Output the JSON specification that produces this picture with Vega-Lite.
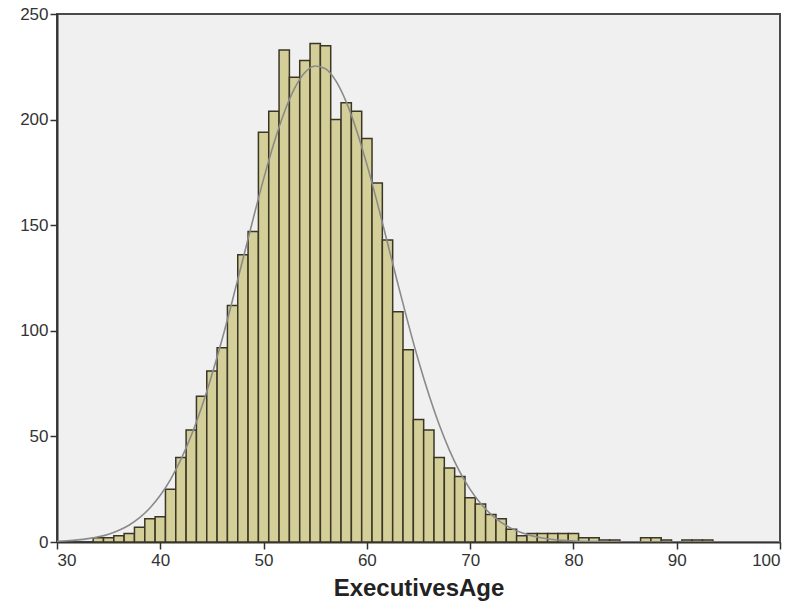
{
  "$schema": "https://vega.github.io/schema/vega-lite/v6.json",
  "width": 723,
  "height": 528,
  "autosize": "none",
  "padding": {"left": 57, "top": 14, "right": 20, "bottom": 67},
  "background": "#ffffff",
  "config": {
    "view": {"fill": "#f0f0f0", "stroke": "#4a4a4a", "strokeWidth": 2},
    "font": "Liberation Sans"
  },
  "datasets": {
    "bins": [
      {"bin_start": 33.5, "bin_end": 34.5, "count": 2},
      {"bin_start": 34.5, "bin_end": 35.5, "count": 2},
      {"bin_start": 35.5, "bin_end": 36.5, "count": 3},
      {"bin_start": 36.5, "bin_end": 37.5, "count": 4},
      {"bin_start": 37.5, "bin_end": 38.5, "count": 7},
      {"bin_start": 38.5, "bin_end": 39.5, "count": 11},
      {"bin_start": 39.5, "bin_end": 40.5, "count": 12},
      {"bin_start": 40.5, "bin_end": 41.5, "count": 25},
      {"bin_start": 41.5, "bin_end": 42.5, "count": 40},
      {"bin_start": 42.5, "bin_end": 43.5, "count": 53},
      {"bin_start": 43.5, "bin_end": 44.5, "count": 69},
      {"bin_start": 44.5, "bin_end": 45.5, "count": 81},
      {"bin_start": 45.5, "bin_end": 46.5, "count": 92},
      {"bin_start": 46.5, "bin_end": 47.5, "count": 112},
      {"bin_start": 47.5, "bin_end": 48.5, "count": 136},
      {"bin_start": 48.5, "bin_end": 49.5, "count": 147},
      {"bin_start": 49.5, "bin_end": 50.5, "count": 194},
      {"bin_start": 50.5, "bin_end": 51.5, "count": 204},
      {"bin_start": 51.5, "bin_end": 52.5, "count": 233},
      {"bin_start": 52.5, "bin_end": 53.5, "count": 220},
      {"bin_start": 53.5, "bin_end": 54.5, "count": 228},
      {"bin_start": 54.5, "bin_end": 55.5, "count": 236},
      {"bin_start": 55.5, "bin_end": 56.5, "count": 235},
      {"bin_start": 56.5, "bin_end": 57.5, "count": 200},
      {"bin_start": 57.5, "bin_end": 58.5, "count": 208},
      {"bin_start": 58.5, "bin_end": 59.5, "count": 204},
      {"bin_start": 59.5, "bin_end": 60.5, "count": 191},
      {"bin_start": 60.5, "bin_end": 61.5, "count": 170},
      {"bin_start": 61.5, "bin_end": 62.5, "count": 143},
      {"bin_start": 62.5, "bin_end": 63.5, "count": 109},
      {"bin_start": 63.5, "bin_end": 64.5, "count": 91},
      {"bin_start": 64.5, "bin_end": 65.5, "count": 58},
      {"bin_start": 65.5, "bin_end": 66.5, "count": 53},
      {"bin_start": 66.5, "bin_end": 67.5, "count": 40},
      {"bin_start": 67.5, "bin_end": 68.5, "count": 35},
      {"bin_start": 68.5, "bin_end": 69.5, "count": 31},
      {"bin_start": 69.5, "bin_end": 70.5, "count": 21},
      {"bin_start": 70.5, "bin_end": 71.5, "count": 18},
      {"bin_start": 71.5, "bin_end": 72.5, "count": 13},
      {"bin_start": 72.5, "bin_end": 73.5, "count": 11},
      {"bin_start": 73.5, "bin_end": 74.5, "count": 6},
      {"bin_start": 74.5, "bin_end": 75.5, "count": 3},
      {"bin_start": 75.5, "bin_end": 76.5, "count": 4},
      {"bin_start": 76.5, "bin_end": 77.5, "count": 4},
      {"bin_start": 77.5, "bin_end": 78.5, "count": 4},
      {"bin_start": 78.5, "bin_end": 79.5, "count": 4},
      {"bin_start": 79.5, "bin_end": 80.5, "count": 4},
      {"bin_start": 80.5, "bin_end": 81.5, "count": 2},
      {"bin_start": 81.5, "bin_end": 82.5, "count": 2},
      {"bin_start": 82.5, "bin_end": 83.5, "count": 1},
      {"bin_start": 83.5, "bin_end": 84.5, "count": 1},
      {"bin_start": 86.5, "bin_end": 87.5, "count": 2},
      {"bin_start": 87.5, "bin_end": 88.5, "count": 2},
      {"bin_start": 88.5, "bin_end": 89.5, "count": 1},
      {"bin_start": 90.5, "bin_end": 91.5, "count": 1},
      {"bin_start": 91.5, "bin_end": 92.5, "count": 1},
      {"bin_start": 92.5, "bin_end": 93.5, "count": 1}
    ],
    "curve": [
      {"age": 30, "density": 0.38},
      {"age": 31, "density": 0.62},
      {"age": 32, "density": 1.0},
      {"age": 33, "density": 1.59},
      {"age": 34, "density": 2.45},
      {"age": 35, "density": 3.72},
      {"age": 36, "density": 5.53},
      {"age": 37, "density": 8.05},
      {"age": 38, "density": 11.5},
      {"age": 39, "density": 16.1},
      {"age": 40, "density": 22.1},
      {"age": 41, "density": 29.7},
      {"age": 42, "density": 39.1},
      {"age": 43, "density": 50.4},
      {"age": 44, "density": 63.8},
      {"age": 45, "density": 79.2},
      {"age": 46, "density": 96.2},
      {"age": 47, "density": 114.7},
      {"age": 48, "density": 133.9},
      {"age": 49, "density": 153.2},
      {"age": 50, "density": 171.8},
      {"age": 51, "density": 188.8},
      {"age": 52, "density": 203.4},
      {"age": 53, "density": 214.8},
      {"age": 54, "density": 222.3},
      {"age": 55, "density": 225.4},
      {"age": 56, "density": 224.1},
      {"age": 57, "density": 218.3},
      {"age": 58, "density": 208.4},
      {"age": 59, "density": 195.0},
      {"age": 60, "density": 178.8},
      {"age": 61, "density": 160.8},
      {"age": 62, "density": 141.6},
      {"age": 63, "density": 122.3},
      {"age": 64, "density": 103.5},
      {"age": 65, "density": 85.8},
      {"age": 66, "density": 69.8},
      {"age": 67, "density": 55.6},
      {"age": 68, "density": 43.4},
      {"age": 69, "density": 33.2},
      {"age": 70, "density": 24.9},
      {"age": 71, "density": 18.3},
      {"age": 72, "density": 13.2},
      {"age": 73, "density": 9.31},
      {"age": 74, "density": 6.44},
      {"age": 75, "density": 4.37},
      {"age": 76, "density": 2.9},
      {"age": 77, "density": 1.89},
      {"age": 78, "density": 1.21},
      {"age": 79, "density": 0.76},
      {"age": 80, "density": 0.46},
      {"age": 82, "density": 0.16},
      {"age": 85, "density": 0.03},
      {"age": 90, "density": 0},
      {"age": 100, "density": 0}
    ]
  },
  "layer": [
    {
      "data": {"name": "bins"},
      "mark": {"type": "bar", "fill": "#d4cf98", "stroke": "#3a3626", "strokeWidth": 1.5, "binSpacing": 0},
      "encoding": {
        "x": {
          "field": "bin_start", "type": "quantitative",
          "scale": {"domain": [30, 100], "nice": false, "zero": false},
          "axis": {
            "title": "ExecutivesAge", "values": [30, 40, 50, 60, 70, 80, 90, 100],
            "grid": false, "tickSize": 7, "tickColor": "#333333", "tickWidth": 1.5,
            "domainColor": "#333333", "domainWidth": 2,
            "labelFontSize": 17, "labelColor": "#333333", "labelPadding": 3,
            "titleFontSize": 24, "titleFontWeight": "bold", "titleColor": "#222222", "titlePadding": 8
          }
        },
        "x2": {"field": "bin_end"},
        "y": {
          "field": "count", "type": "quantitative",
          "scale": {"domain": [0, 250], "nice": false},
          "axis": {
            "title": null, "values": [0, 50, 100, 150, 200, 250],
            "grid": false, "tickSize": 7, "tickColor": "#333333", "tickWidth": 1.5,
            "domainColor": "#333333", "domainWidth": 2,
            "labelFontSize": 17, "labelColor": "#333333", "labelPadding": 2
          }
        },
        "y2": {"datum": 0}
      }
    },
    {
      "data": {"name": "curve"},
      "mark": {"type": "line", "color": "#8a8a8a", "strokeWidth": 1.6, "interpolate": "monotone", "clip": true},
      "encoding": {
        "x": {"field": "age", "type": "quantitative"},
        "y": {"field": "density", "type": "quantitative"}
      }
    }
  ]
}
